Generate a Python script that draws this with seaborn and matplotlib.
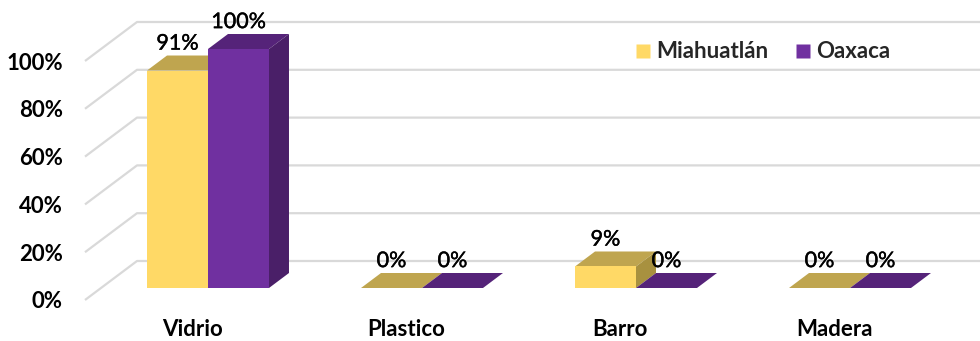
import matplotlib
matplotlib.use("Agg")
import matplotlib.pyplot as plt
import matplotlib.patheffects as pe
import seaborn as sns
import pandas as pd
from matplotlib.patches import Polygon
from matplotlib.lines import Line2D

categories = ["Vidrio", "Plastico", "Barro", "Madera"]
series = ["Miahuatlán", "Oaxaca"]
miahuatlan = [91, 0, 9, 0]
oaxaca = [100, 0, 0, 0]
yticks = [0, 20, 40, 60, 80, 100]

front_colors = {"Miahuatlán": "#FFD966", "Oaxaca": "#7030A0"}
top_colors = {"Miahuatlán": "#BFA54F", "Oaxaca": "#552379"}
side_colors = {"Miahuatlán": "#A8913F", "Oaxaca": "#4A1F68"}

df = pd.DataFrame({
    "Material": categories * 2,
    "Serie": [series[0]] * len(categories) + [series[1]] * len(categories),
    "Valor": miahuatlan + oaxaca,
})

sns.set_theme(style="white")
plt.rcParams['font.family'] = ['Lato', 'DejaVu Sans']

W, H = 980, 341
fig = plt.figure(figsize=(W / 100, H / 100), dpi=100)
ax = fig.add_axes([85 / W, (H - 300) / H, (W - 85) / W, 300 / H])

sns.barplot(data=df, x="Material", y="Valor", hue="Serie", hue_order=series,
            palette=front_colors, width=0.57, saturation=1, ax=ax,
            zorder=3, edgecolor="none", linewidth=0, legend=False)

XS, YS = 214.0, 2.39          # pixels per category / per percent
DX, DY = 20 / XS, 15 / YS      # bar depth
x_left = (85 - 208) / XS
x_right = (W - 208) / XS
y_bottom = (288 - 300) / YS
y_top = 288 / YS
ax.set_xlim(x_left, x_right)
ax.set_ylim(y_bottom, y_top)

# back wall gridlines with perspective
wall_x = (137 - 208) / XS
wall_y = (288 - 261) / YS
for v in yticks:
    ax.plot([x_left, wall_x, x_right], [v + y_bottom, v + wall_y, v + wall_y],
            color="#D9D9D9", lw=1.6, zorder=1, clip_on=False, solid_capstyle="butt")

# 3D faces and labels
for cont, s in zip(ax.containers, series):
    for bar in cont:
        x0, w, h = bar.get_x(), bar.get_width(), bar.get_height()
        ax.add_patch(Polygon([(x0, h), (x0 + w, h), (x0 + w + DX, h + DY), (x0 + DX, h + DY)],
                             closed=True, facecolor=top_colors[s], edgecolor="none", zorder=2))
        ax.add_patch(Polygon([(x0 + w, 0), (x0 + w + DX, DY), (x0 + w + DX, h + DY), (x0 + w, h)],
                             closed=True, facecolor=side_colors[s], edgecolor="none", zorder=2))
        ax.text(x0 + w / 2, h + DY + 0.8, f"{h:.0f}%", ha="center", va="bottom",
                fontsize=15.5, color="black", zorder=5,
                path_effects=[pe.withStroke(linewidth=0.3, foreground="black")])

ax.set_xticks([i + y_bottom * (DX / DY) for i in range(len(categories))])
ax.set_xticklabels(categories, fontsize=16, fontweight="bold", color="black")
ax.set_yticks([v + y_bottom for v in yticks])
ax.set_yticklabels([f"{v}%" for v in yticks], fontsize=16, fontweight="bold", color="black")
ax.tick_params(axis="y", length=0, pad=16)
ax.tick_params(axis="x", length=0, pad=14)
ax.set_xlabel("")
ax.set_ylabel("")
for sp in ax.spines.values():
    sp.set_visible(False)
ax.patch.set_alpha(0)

handles = [Line2D([0], [0], marker="s", linestyle="none", markersize=10.5,
                  markerfacecolor=front_colors[s], markeredgecolor="none") for s in series]
ax.legend(handles, series, loc="center", bbox_to_anchor=(763 / W, 1 - 52 / H),
          bbox_transform=fig.transFigure, ncol=2, frameon=False,
          handlelength=0.7, handletextpad=0.25, columnspacing=1.2,
          prop=dict(weight="bold", size=16))

fig.savefig("out.png", dpi=100, facecolor="white")
